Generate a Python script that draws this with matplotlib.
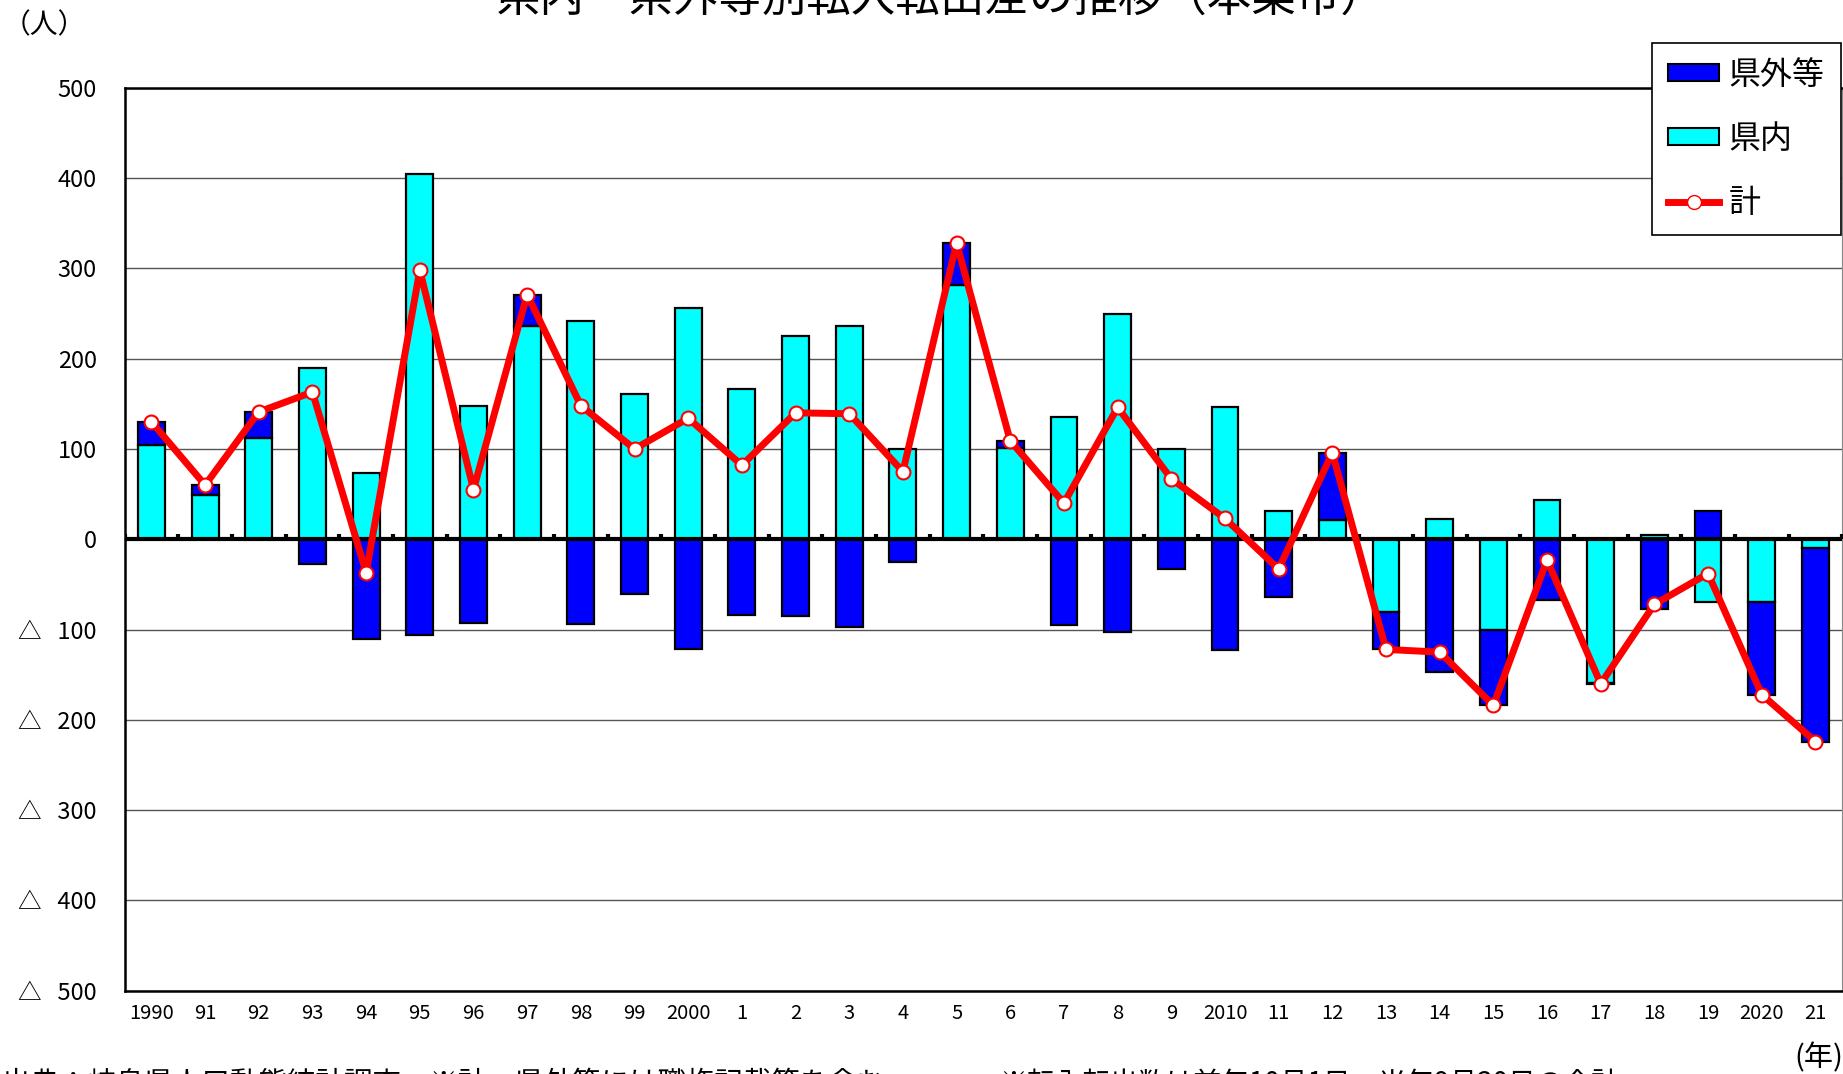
import matplotlib
matplotlib.use('Agg')
import matplotlib.pyplot as plt
import numpy as np
from matplotlib.lines import Line2D
from matplotlib.patches import Patch

plt.rcParams['font.family'] = ['Noto Sans CJK JP', 'DejaVu Sans']

# data
years = ['1990', '91', '92', '93', '94', '95', '96', '97', '98', '99',
         '2000', '1', '2', '3', '4', '5', '6', '7', '8', '9',
         '2010', '11', '12', '13', '14', '15', '16', '17', '18', '19',
         '2020', '21']
kennai = [104, 49, 112, 190, 73, 404, 148, 236, 242, 161,
          256, 166, 225, 236, 100, 282, 101, 135, 249, 100,
          146, 31, 21, -81, 22, -100, 44, -159, 5, -69,
          -69, -10]
kengai = [26, 11, 29, -27, -110, -106, -93, 35, -94, -61,
          -122, -84, -85, -97, -25, 46, 8, -95, -103, -33,
          -123, -64, 75, -41, -147, -84, -67, -1, -77, 31,
          -103, -214]
total = [130, 60, 141, 163, -37, 298, 55, 271, 148, 100,
         134, 82, 140, 139, 75, 328, 109, 40, 146, 67,
         23, -33, 96, -122, -125, -184, -23, -160, -72, -38,
         -172, -224]
yticks = [500, 400, 300, 200, 100, 0, -100, -200, -300, -400, -500]

title = '県内・県外等別転入転出差の推移（本巣市）'
note1 = '出典：岐阜県人口動態統計調査　※計・県外等には職権記載等を含む'
note2 = '※転入転出数は前年10月1日～当年9月30日の合計'

BLUE = '#0000ff'
CYAN = '#00ffff'
RED = '#ff0000'

fig = plt.figure(figsize=(18.43, 10.74), dpi=100)
ax = fig.add_axes([0.0676, 0.0775, 0.932, 0.8408])

x = np.arange(len(years))

# stacked bars, positives up from 0 and negatives down from 0
pos_base = np.zeros(len(x))
neg_base = np.zeros(len(x))
for vals, col in [(np.array(kennai, float), CYAN), (np.array(kengai, float), BLUE)]:
    base = np.where(vals >= 0, pos_base, neg_base)
    ax.bar(x, vals, 0.5, bottom=base, color=col, edgecolor='black',
           linewidth=1.6, zorder=2)
    pos_base += np.clip(vals, 0, None)
    neg_base += np.clip(vals, None, 0)

# zero line with small category ticks
ax.axhline(0, color='black', lw=3, zorder=3)
bounds = np.arange(len(x) + 1) - 0.5
ax.plot(bounds, np.zeros(len(bounds)), ls='none', marker=2, ms=3.5,
        mew=3, color='black', zorder=3)

ax.plot(x, total, color=RED, lw=5, marker='o', ms=10, mfc='white',
        mec=RED, mew=1.5, zorder=4)

ax.set_xlim(-0.5, len(x) - 0.5)
ax.set_ylim(-500, 500)
ax.set_yticks(yticks)
ax.set_yticklabels([str(v) if v >= 0 else '△   ' + str(-v) for v in yticks],
                   fontsize=17)
ax.set_xticks(x)
ax.set_xticklabels(years, fontsize=14.5)
ax.tick_params(axis='y', length=0, pad=20)
ax.tick_params(axis='x', length=0, pad=9)
ax.grid(axis='y', color='#555555', lw=1, zorder=0)
ax.set_axisbelow(True)
for side in ['left', 'top', 'bottom']:
    ax.spines[side].set_linewidth(1.8)
ax.spines['right'].set_color('#888888')

handles = [Patch(facecolor=BLUE, edgecolor='black', lw=1.5),
           Patch(facecolor=CYAN, edgecolor='black', lw=1.5),
           Line2D([], [], color=RED, lw=5, marker='o', ms=10, mfc='white', mec=RED)]
leg = fig.legend(handles, ['県外等', '県内', '計'], loc='upper left',
                 bbox_to_anchor=(1652 / 1843, 1 - 43 / 1074), borderaxespad=0,
                 fontsize=23, frameon=True, fancybox=False, framealpha=1,
                 edgecolor='black', handlelength=1.6, handleheight=0.45,
                 handletextpad=0.3, labelspacing=1.0, borderpad=0.5)
leg.get_frame().set_linewidth(1.2)

fig.text(941 / 1843, 1 - 11 / 1074, title, ha='center', va='baseline', fontsize=32)
fig.text(3 / 1843, 1 - 25 / 1074, '（人）', ha='left', va='center', fontsize=20)
fig.text(1, 1 - 1058 / 1074, '(年)', ha='right', va='center', fontsize=21)
fig.text(2 / 1843, 1 - 1069 / 1074, note1, ha='left', va='top', fontsize=20.5)
fig.text(999 / 1843, 1 - 1069 / 1074, note2, ha='left', va='top', fontsize=20)

fig.savefig('out.png', dpi=100)
